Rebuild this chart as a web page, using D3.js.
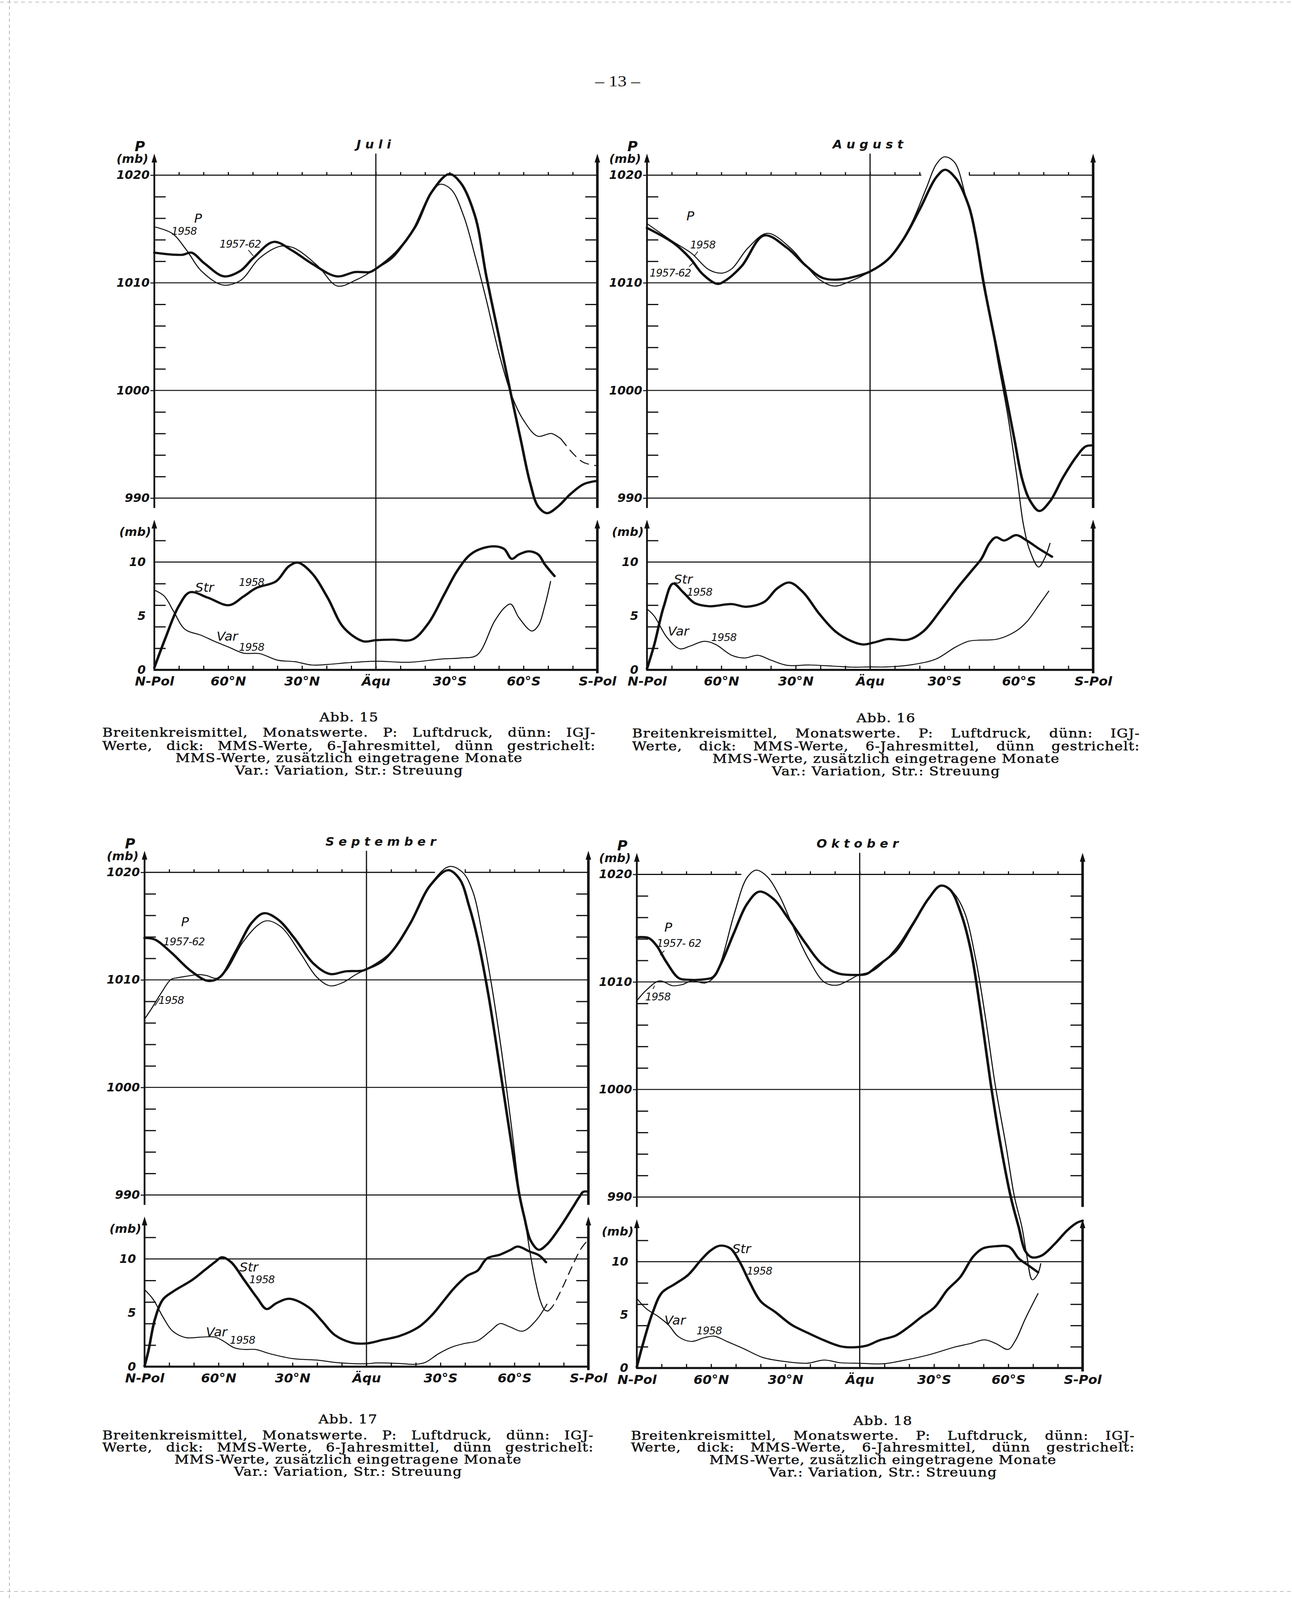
<!DOCTYPE html>
<html><head><meta charset="utf-8">
<script src="https://cdn.jsdelivr.net/npm/d3@7"></script>
<style>html,body{margin:0;padding:0;background:#fff;overflow:hidden}svg{display:block}</style>
</head><body>
<script>
// ================= DATA =================
const latTicks = [90, 60, 30, 0, -30, -60, -90];
const latLabels = ["N-Pol", "60°N", "30°N", "Äqu", "30°S", "60°S", "S-Pol"];
const pLabelValues = [990, 1000, 1010, 1020];
const pMinorTicks = [992, 994, 996, 998, 1002, 1004, 1006, 1008, 1012, 1014, 1016, 1018];
const sLabelValues = [0, 5, 10];
const sMinorTicks = [2, 4, 6, 8, 12];
const monthTitles = ["Juli", "August", "September", "Oktober"];
const figNumbers = ["Abb. 15", "Abb. 16", "Abb. 17", "Abb. 18"];
const captionLines = [
  "Breitenkreismittel, Monatswerte. P: Luftdruck, dünn: IGJ-",
  "Werte, dick: MMS-Werte, 6-Jahresmittel, dünn gestrichelt:",
  "MMS-Werte, zusätzlich eingetragene Monate",
  "Var.: Variation, Str.: Streuung"
];
const pageNumber = "– 13 –";

// [latitude (N positive), value]
// ---- Juli ----
const julP5762 = [[90,1012.8],[78.8,1012.6],[74.9,1012.8],[69.6,1011.8],[61.7,1010.6],[55.1,1011.1],[49.8,1012.3],[41.5,1013.8],[34,1013.0],[26.1,1011.8],[15.9,1010.6],[8.4,1011.0],[2.4,1011.0],[0,1011.3],[-8.1,1012.8],[-16,1015.2],[-22.6,1018.4],[-29.8,1020.1],[-34.4,1019.3],[-40.3,1016.2],[-44.9,1010.6],[-50.2,1004.8],[-54.2,1000.4],[-58.8,995.5],[-62.7,991.4],[-66,989.2],[-69.6,988.6],[-73.9,989.2],[-79.2,990.4],[-84.5,991.3],[-90,991.6]];
const julP1958 = [[90,1015.2],[82.8,1014.6],[76.8,1013.0],[70.9,1011.1],[62.3,1009.8],[55.1,1010.2],[47.2,1012.3],[38.7,1013.4],[33.4,1013.25],[23.5,1011.55],[15.6,1009.7],[7.7,1010.3],[0,1011.3],[-6.8,1012.3],[-14.7,1014.8],[-21.3,1017.9],[-26.1,1019.15],[-30.5,1018.7],[-35.7,1016.2],[-40.3,1012.5],[-44.9,1008.4],[-50.2,1003.3],[-55.4,999.4],[-60.1,997.2],[-65.8,995.75],[-71.3,996.0],[-75.2,995.5]];
const julP1958Dash = [[-75.2,995.5],[-80.5,994.05],[-84.5,993.3],[-90,993.0]];
const julStr = [[90,0.2],[85.4,3.0],[80.1,5.9],[75.5,7.2],[68.3,6.7],[59.7,6.0],[53.8,6.8],[48.5,7.6],[40.6,8.2],[35.4,9.6],[31.7,9.95],[26.1,9.0],[19.6,6.7],[13,3.9],[5.1,2.65],[0,2.75],[-6.8,2.8],[-14.7,2.8],[-21.3,4.3],[-27.8,7.0],[-33.1,9.2],[-38.4,10.7],[-43.6,11.3],[-48.9,11.45],[-52.2,11.2],[-55.2,10.3],[-58.1,10.7],[-62.1,11.0],[-66,10.7],[-68.6,9.8],[-72.6,8.7]];
const julVar = [[90,7.4],[86,6.85],[82.1,5.4],[77.5,3.75],[70.9,3.2],[65.6,2.65],[59.7,2.1],[53.8,1.55],[47.2,1.5],[40,0.9],[32.7,0.75],[26.1,0.45],[19.6,0.5],[11.7,0.65],[0,0.8],[-13.4,0.7],[-26.5,1.0],[-34.4,1.1],[-41,1.35],[-48.2,4.5],[-52.2,5.75],[-54.8,6.1],[-58.1,4.85],[-63.4,3.6],[-66,4.1],[-68.6,5.9],[-71,8.2]];

// ---- August ----
const augP5762 = [[90,1015.1],[79.3,1013.7],[72.7,1012.3],[67.5,1010.8],[61.6,1009.9],[58.4,1010.2],[51.8,1011.55],[42.7,1014.4],[33.5,1013.25],[25.7,1011.55],[19.1,1010.45],[12.6,1010.3],[3.4,1010.75],[0,1011.05],[-7.1,1012.15],[-13.6,1014.1],[-20.2,1016.9],[-26.7,1019.8],[-30.3,1020.5],[-34.6,1019.7],[-39.8,1017.15],[-42.5,1014.5],[-45.7,1010.1],[-50.3,1004.75],[-54.3,1000.15],[-58.2,995.5],[-61.5,991.65],[-64.7,989.7],[-68.3,988.8],[-72.6,989.7],[-77.8,991.9],[-83.1,993.8],[-87,994.8],[-90,994.9]];
const augP1958 = [[90,1015.5],[79.3,1013.8],[72.1,1012.75],[64.9,1011.2],[59.7,1010.9],[55.8,1011.3],[49.2,1013.25],[41.4,1014.6],[32.2,1013.25],[25.7,1011.55],[20.4,1010.3],[14.5,1009.7],[7.4,1010.2],[0,1011.05],[-8.4,1012.5],[-16.2,1015.3],[-22.7,1018.8],[-26.7,1021.0],[-30,1021.7],[-33.9,1021.25],[-38.5,1018.1],[-42.5,1014.5],[-46.4,1009.6],[-51.5,1002.8],[-55.4,997.9],[-59.3,991.9],[-61.9,987.5],[-64.5,985.1],[-68,983.6],[-70.4,984.4],[-72.6,985.8]];
const augP1958Dash = [];
const augStr = [[90,0.1],[87.1,2.3],[83.2,5.9],[79.5,8.0],[75.4,7.2],[70.8,6.2],[64.9,5.9],[55.8,6.1],[49.9,5.85],[42.7,6.3],[37.5,7.55],[32.5,8.1],[27,7.2],[20.5,5.2],[13.9,3.55],[7.4,2.65],[2.8,2.35],[-1.8,2.55],[-7,2.85],[-15.5,2.8],[-21.4,3.55],[-29.2,5.75],[-35.8,7.75],[-41,9.2],[-44.9,10.3],[-48.2,11.75],[-50.8,12.3],[-54.1,12.0],[-59,12.5],[-63.2,12.0],[-68.4,11.2],[-73.4,10.5]];
const augVar = [[90,5.65],[87.1,5.0],[81.9,3.0],[76.7,1.95],[72.7,2.2],[66.9,2.65],[62.3,2.35],[55.8,1.35],[50.5,1.1],[45.3,1.35],[40,0.9],[33.5,0.42],[24.4,0.45],[15.2,0.35],[7.4,0.25],[0,0.27],[-7,0.27],[-17.5,0.5],[-26.6,1.0],[-34.4,2.1],[-39.7,2.65],[-43.6,2.75],[-51.4,2.85],[-58.6,3.55],[-63.2,4.45],[-68.4,6.1],[-72.1,7.3]];

// ---- September ----
const sepP5762 = [[90,1013.9],[85.8,1013.75],[79.2,1012.55],[71.3,1010.85],[64.1,1009.9],[59.5,1010.25],[52.9,1012.7],[46.4,1015.35],[41.5,1016.2],[35.8,1015.6],[29.3,1013.9],[21.4,1011.5],[14.8,1010.55],[8.3,1010.8],[1.7,1010.85],[0,1011.0],[-6.2,1011.7],[-11.4,1012.95],[-18,1015.35],[-25.9,1018.8],[-33.1,1020.2],[-37.7,1019.4],[-41.7,1016.8],[-45,1013.9],[-49.5,1008.55],[-54.8,1000.75],[-58.7,994.9],[-62,990.05],[-64,987.95],[-66.6,985.75],[-69.9,984.9],[-73.2,985.4],[-78.5,987.0],[-83.7,988.85],[-86.3,989.8],[-88,990.3],[-90,990.3]];
const sepP1958 = [[90,1006.35],[87.1,1007.35],[83.2,1008.8],[79.2,1010.05],[76.6,1010.2],[71.3,1010.4],[68,1010.5],[64.8,1010.4],[60.8,1010.15],[56.9,1010.85],[50.3,1013.45],[43.7,1015.15],[40.2,1015.5],[34.5,1014.9],[26.7,1012.45],[20.1,1010.25],[14.8,1009.45],[9.6,1009.75],[4.3,1010.5],[0,1011.0],[-7.5,1012.1],[-12.8,1013.3],[-19.3,1015.85],[-27.2,1019.25],[-33.8,1020.55],[-39,1020.0],[-43,1018.3],[-46.9,1014.4],[-50.9,1009.3],[-55.5,1002.2],[-59,996.0],[-62.2,990.0],[-64.7,987.0],[-66.6,984.3],[-68.6,981.9],[-70.6,980.1],[-72.3,979.3],[-73.6,979.2]];
const sepP1958Dash = [[-73.6,979.2],[-75.2,979.55],[-79.1,981.2],[-83.1,983.2],[-87,985.0],[-89.6,985.75]];
const sepStr = [[90,0.05],[88.4,1.5],[85.8,4.4],[82.5,6.25],[78.6,6.95],[70.7,8.05],[65.4,9.0],[61.5,9.7],[58.6,10.15],[54.9,9.7],[49.6,8.05],[44.4,6.4],[40.5,5.35],[36.5,5.9],[31.3,6.3],[23.4,5.5],[18.1,4.25],[12.9,2.95],[6.3,2.25],[0.4,2.15],[-6.8,2.5],[-13.4,2.85],[-21.3,3.7],[-26.6,4.8],[-31.8,6.25],[-35.8,7.35],[-41,8.45],[-45,8.9],[-48.9,10.05],[-54.2,10.4],[-58.1,10.8],[-61.4,11.15],[-66,10.7],[-69.9,10.35],[-72.8,9.7]];
const sepVar = [[90,7.15],[86.5,6.25],[82.5,4.6],[78.6,3.3],[73.3,2.7],[66.7,2.75],[61.5,2.75],[58.2,2.4],[53.6,1.75],[49.7,1.6],[45.1,1.6],[39.1,1.2],[29.9,0.75],[19.4,0.6],[12.9,0.4],[0.4,0.27],[-4.2,0.35],[-13.4,0.3],[-20,0.22],[-23.9,0.4],[-29.2,1.2],[-34.4,1.8],[-39.7,2.15],[-45,2.4],[-50.2,3.3],[-54.2,4.0],[-58.1,3.7],[-63.4,3.3],[-68.6,4.25],[-73.2,5.8]];

// ---- Oktober ----
const oktP5762 = [[90,1014.15],[85.4,1014.1],[82.1,1013.4],[78.2,1011.9],[73,1010.35],[69,1010.2],[62.5,1010.25],[59.2,1010.45],[56,1011.7],[50.7,1014.6],[45.5,1017.25],[40.5,1018.4],[35,1017.75],[28.5,1015.8],[21.9,1013.6],[15.4,1011.7],[8.8,1010.8],[1,1010.65],[-2.9,1010.75],[-6.9,1011.45],[-14.7,1012.9],[-21.3,1015.3],[-27.8,1017.75],[-32.7,1018.95],[-36.4,1018.6],[-41,1016.3],[-44.9,1012.9],[-48.8,1007.3],[-52.8,1000.7],[-56.7,995.1],[-61,990.0],[-64.2,987.2],[-66.8,985.0],[-69.4,984.4],[-73.4,984.55],[-78.6,985.6],[-83.8,986.9],[-87.7,987.6],[-90,987.8]];
const oktP1958 = [[90,1008.25],[86.1,1009.25],[80.8,1010.1],[75.6,1009.65],[71.7,1009.75],[67.7,1010.1],[62.5,1009.9],[59.2,1010.35],[56,1011.9],[50.7,1016.3],[45.5,1019.7],[41.8,1020.4],[37.6,1019.85],[32.4,1018.0],[27.2,1015.3],[20.7,1012.15],[14.1,1009.95],[9.1,1009.7],[4.9,1010.1],[0.4,1010.65],[-5.5,1011.05],[-14.7,1013.15],[-21.3,1015.45],[-27.8,1017.75],[-33,1019.0],[-37.6,1018.35],[-42.2,1016.55],[-46.8,1012.15],[-50.7,1006.8],[-54.7,1000.45],[-59.2,994.6],[-62.5,990.0],[-65.5,987.2],[-67.5,984.5],[-69.7,982.3],[-71.8,982.8],[-73.1,983.8]];
const oktP1958Dash = [];
const oktStr = [[90,0.1],[87.6,2.2],[83.7,5.15],[79.8,7.1],[74.6,7.9],[69.3,8.75],[64.1,10.15],[60.2,11.05],[56.5,11.5],[52.3,11.25],[48.4,9.95],[44.5,8.1],[39.9,6.25],[34,5.25],[27.4,4.05],[20.9,3.3],[14.3,2.6],[7.8,2.05],[2.6,1.95],[-2.7,2.1],[-7.9,2.6],[-14.5,3.05],[-19.7,3.85],[-24.9,4.8],[-30.2,5.7],[-35.4,7.35],[-40.6,8.55],[-45.9,10.5],[-49.8,11.25],[-55,11.45],[-60.3,11.4],[-64.2,10.3],[-68.1,9.65],[-72,9.0]];
const oktVar = [[90,6.55],[86.3,5.6],[81.1,4.8],[77.2,4.05],[73.2,2.95],[68,2.5],[62.8,2.85],[58.8,3.0],[53.6,2.5],[47.1,1.85],[39.2,1.0],[31.4,0.65],[21.5,0.45],[14.3,0.75],[7.8,0.5],[-0.1,0.45],[-9.2,0.4],[-18.4,0.75],[-28.8,1.3],[-38,1.95],[-44.6,2.3],[-50.5,2.65],[-55,2.3],[-59.9,1.75],[-62.9,2.6],[-66.8,4.6],[-72,7.0]];

// ================= LAYOUT (page pixels of the 3307 x 4677 sheet) =================
const W = 3307, H = 4677;
const layouts = [
  {xL:395,  xR:1529, yTop:512,  yBot:1456, y0:1958, y10:1643, titleDx:0,
   capX0:262, capX1:1525, capY:[2097,2142,2180,2216,2252]},
  {xL:1656, xR:2798, yTop:512,  yBot:1456, y0:1958, y10:1643, titleDx:0,
   capX0:1618, capX1:2918, capY:[2099,2144,2181,2218,2254]},
  {xL:370,  xR:1506, yTop:2550, yBot:3493, y0:3995, y10:3680, titleDx:42,
   capX0:262, capX1:1520, capY:[4149,4196,4231,4267,4302]},
  {xL:1630, xR:2771, yTop:2556, yBot:3499, y0:3999, y10:3688, titleDx:0,
   capX0:1615, capX1:2905, capY:[4153,4197,4231,4268,4304]}
];
// annotation anchors in data coordinates (lat, value); panel P = pressure, S = Str/Var
const notes = [
  [{t:"P",lat:72.2,v:1016.0,p:"P",big:1},{t:"1958",lat:77.9,v:1014.8,p:"P"},{t:"1957-62",lat:55.1,v:1013.6,p:"P"},
   {t:"Str",lat:69.6,v:7.66,p:"S",big:1},{t:"1958",lat:50.5,v:8.1,p:"S"},{t:"Var",lat:60.4,v:3.1,p:"S",big:1},{t:"1958",lat:50.5,v:2.1,p:"S"}],
  [{t:"P",lat:72.5,v:1016.2,p:"P",big:1},{t:"1958",lat:67.5,v:1013.5,p:"P"},{t:"1957-62",lat:80.6,v:1010.9,p:"P"},
   {t:"Str",lat:75.4,v:8.4,p:"S",big:1},{t:"1958",lat:68.8,v:7.2,p:"S"},{t:"Var",lat:77.3,v:3.6,p:"S",big:1},{t:"1958",lat:59,v:3.0,p:"S"}],
  [{t:"P",lat:73.6,v:1015.4,p:"P",big:1},{t:"1957-62",lat:74,v:1013.55,p:"P"},{t:"1958",lat:79.2,v:1008.1,p:"P"},
   {t:"Str",lat:47.7,v:9.25,p:"S",big:1},{t:"1958",lat:42.4,v:8.07,p:"S"},{t:"Var",lat:60.8,v:3.23,p:"S",big:1},{t:"1958",lat:50.3,v:2.45,p:"S"}],
  [{t:"P",lat:77.3,v:1015.1,p:"P",big:1},{t:"1957- 62",lat:73,v:1013.6,p:"P"},{t:"1958",lat:81.5,v:1008.6,p:"P"},
   {t:"Str",lat:47.7,v:11.23,p:"S",big:1},{t:"1958",lat:40.5,v:9.1,p:"S"},{t:"Var",lat:74.6,v:4.5,p:"S",big:1},{t:"1958",lat:60.8,v:3.5,p:"S"}]
];
const leaders = [
  [[[51.8,1013.05],[49.8,1012.5]]],
  [[[69.5,1012.9],[70.8,1012.5]],[[73,1011.5],[71.2,1011.9]]],
  [[[83.8,1008.3],[85.8,1007.6]]],
  [[[78.9,1012.9],[80.6,1012.5]],[[82.8,1009.65],[83.5,1009.35]]]
];
const series = [
  {thick:julP5762, thin:julP1958, dash:julP1958Dash, str:julStr, vr:julVar},
  {thick:augP5762, thin:augP1958, dash:augP1958Dash, str:augStr, vr:augVar},
  {thick:sepP5762, thin:sepP1958, dash:sepP1958Dash, str:sepStr, vr:sepVar},
  {thick:oktP5762, thin:oktP1958, dash:oktP1958Dash, str:oktStr, vr:oktVar}
];

// ================= DRAWING =================
const INK = "#111";
const LAB = "'DejaVu Sans Condensed','Liberation Sans Narrow','DejaVu Sans',sans-serif";
const CAP = "'DejaVu Serif','Liberation Serif',serif";

// the visible viewport may be shorter than the sheet: squeeze the sheet vertically to fit
const viewH = Math.min(H, window.innerHeight || H);
const ky = viewH / H;

const svg = d3.select("body").append("svg").attr("width", W).attr("height", viewH);
svg.append("rect").attr("width", W).attr("height", viewH).attr("fill", "#fff");
const root = svg.append("g").attr("transform", `scale(1,${ky})`);

// scan borders (faint dotted)
const border = root.append("g").attr("stroke", "#999").attr("stroke-width", 2).attr("stroke-dasharray", "10 8").attr("opacity", 0.7);
border.append("line").attr("x1", 0).attr("x2", W).attr("y1", 6).attr("y2", 6);
border.append("line").attr("x1", 24).attr("x2", 24).attr("y1", 0).attr("y2", H);
border.append("line").attr("x1", 0).attr("x2", W).attr("y1", 4652).attr("y2", 4652);

root.append("text").attr("x", 1581).attr("y", 252).attr("text-anchor", "middle")
  .attr("font-family", "'Liberation Serif','DejaVu Serif',serif").attr("font-size", 46).attr("fill", INK).text(pageNumber);

function styleAxis(g, sw) {
  g.select(".domain").remove();
  g.selectAll("line").attr("stroke", INK).attr("stroke-width", sw);
  g.selectAll("text").attr("fill", INK).attr("font-family", LAB).attr("font-style", "italic")
    .attr("font-weight", "bold").attr("font-size", 34);
}
function arrowAxis(g, xPos, yFrom, yTo, sw) {
  g.append("line").attr("x1", xPos).attr("x2", xPos).attr("y1", yFrom).attr("y2", yTo + 14)
    .attr("stroke", INK).attr("stroke-width", sw);
  g.append("path").attr("d", `M${xPos},${yTo} L${xPos - 7},${yTo + 26} L${xPos + 7},${yTo + 26} Z`).attr("fill", INK);
}

layouts.forEach((c, i) => {
  const s = series[i];
  const g = root.append("g");
  const x = d3.scaleLinear().domain([90, -90]).range([c.xL, c.xR]);
  const yP = d3.scaleLinear().domain([990, 1020]).range([c.yBot, c.yTop]);
  const yS = d3.scaleLinear().domain([0, 10]).range([c.y0, c.y10]);
  const upTop = c.yTop - 63, upBot = c.yBot + 29, loTop = c.y10 - 124;

  // ---- upper panel grid ----
  [1010, 1000, 990].forEach(v => g.append("line").attr("x1", c.xL).attr("x2", c.xR)
    .attr("y1", yP(v)).attr("y2", yP(v)).attr("stroke", INK).attr("stroke-width", 3));
  // 1020 line, interrupted where curves rise above it
  const above = s.thick.concat(s.thin).filter(d => d[1] > 1020.2).map(d => d[0]);
  let gap = null;
  if (above.length) gap = [d3.max(above) + 6, d3.min(above) - 6];
  const segs = gap ? [[90, gap[0]], [gap[1], -90]] : [[90, -90]];
  segs.forEach(sg => g.append("line").attr("x1", x(sg[0])).attr("x2", x(sg[1]))
    .attr("y1", yP(1020)).attr("y2", yP(1020)).attr("stroke", INK).attr("stroke-width", 3.2));
  const topTicks = d3.range(80, -81, -10).filter(l => !gap || l > gap[0] || l < gap[1]);
  g.append("g").attr("transform", `translate(0,${yP(1020)})`)
    .call(d3.axisTop(x).tickValues(topTicks).tickSize(9).tickFormat(""))
    .call(a => styleAxis(a, 3));

  // upper side ticks
  g.append("g").attr("transform", `translate(${c.xL},0)`)
    .call(d3.axisRight(yP).tickValues(pMinorTicks).tickSize(29).tickFormat("")).call(a => styleAxis(a, 3.5));
  g.append("g").attr("transform", `translate(${c.xR},0)`)
    .call(d3.axisLeft(yP).tickValues(pMinorTicks).tickSize(31).tickFormat("")).call(a => styleAxis(a, 3.5));
  g.append("g").attr("transform", `translate(${c.xL},0)`)
    .call(d3.axisLeft(yP).tickValues(pLabelValues).tickSize(10).tickPadding(2).tickFormat(d3.format("d")))
    .call(a => styleAxis(a, 3));

  arrowAxis(g, c.xL, upBot, upTop, 4.5);
  arrowAxis(g, c.xR, upBot, upTop, 6.5);

  g.append("text").attr("x", c.xL - 37).attr("y", c.yTop - 70).attr("text-anchor", "middle")
    .attr("font-family", LAB).attr("font-style", "italic").attr("font-weight", "bold").attr("font-size", 40).attr("fill", INK).text("P");
  g.append("text").attr("x", c.xL - 56).attr("y", c.yTop - 36).attr("text-anchor", "middle")
    .attr("font-family", LAB).attr("font-style", "italic").attr("font-weight", "bold").attr("font-size", 34).attr("fill", INK).text("(mb)");

  g.append("text").attr("x", x(0) + c.titleDx).attr("y", c.yTop - 78).attr("text-anchor", "middle")
    .attr("font-family", LAB).attr("font-style", "italic").attr("font-weight", "bold").attr("font-size", 35)
    .attr("letter-spacing", 11).attr("fill", INK).text(monthTitles[i]);

  // equator
  g.append("line").attr("x1", x(0)).attr("x2", x(0)).attr("y1", upTop).attr("y2", c.y0)
    .attr("stroke", INK).attr("stroke-width", 3);

  // ---- lower panel ----
  g.append("line").attr("x1", c.xL).attr("x2", c.xR).attr("y1", yS(10)).attr("y2", yS(10))
    .attr("stroke", INK).attr("stroke-width", 3);
  g.append("g").attr("transform", `translate(${c.xL},0)`)
    .call(d3.axisRight(yS).tickValues(sMinorTicks).tickSize(29).tickFormat("")).call(a => styleAxis(a, 3.5));
  g.append("g").attr("transform", `translate(${c.xR},0)`)
    .call(d3.axisLeft(yS).tickValues(sMinorTicks).tickSize(31).tickFormat("")).call(a => styleAxis(a, 3.5));
  g.append("g").attr("transform", `translate(${c.xL},0)`)
    .call(d3.axisLeft(yS).tickValues(sLabelValues).tickSize(0).tickPadding(22).tickFormat(d3.format("d")))
    .call(a => styleAxis(a, 0));
  g.append("g").attr("transform", `translate(0,${c.y0})`)
    .call(d3.axisTop(x).tickValues(d3.range(80, -81, -10)).tickSize(12).tickFormat("")).call(a => styleAxis(a, 3));
  g.append("g").attr("transform", `translate(0,${c.y0})`)
    .call(d3.axisBottom(x).tickValues(latTicks).tickSize(0).tickPadding(20).tickFormat((d, k) => latLabels[k]))
    .call(a => { styleAxis(a, 0); a.selectAll("text").attr("font-size", 37); });
  g.append("line").attr("x1", c.xL - 2).attr("x2", c.xR + 3).attr("y1", c.y0).attr("y2", c.y0)
    .attr("stroke", INK).attr("stroke-width", 6);
  arrowAxis(g, c.xL, c.y0, loTop, 4.5);
  arrowAxis(g, c.xR, c.y0 + 10, loTop, 6.5);
  g.append("text").attr("x", c.xL - 49).attr("y", c.y10 - 76).attr("text-anchor", "middle")
    .attr("font-family", LAB).attr("font-style", "italic").attr("font-weight", "bold").attr("font-size", 34).attr("fill", INK).text("(mb)");

  // ---- curves ----
  const lineP = d3.line().x(d => x(d[0])).y(d => yP(d[1])).curve(d3.curveCatmullRom.alpha(0.5));
  const lineS = d3.line().x(d => x(d[0])).y(d => yS(d[1])).curve(d3.curveCatmullRom.alpha(0.5));
  const curve = (d, gen, w, dash) => g.append("path").attr("d", gen(d)).attr("fill", "none")
    .attr("stroke", INK).attr("stroke-width", w).attr("stroke-linejoin", "round").attr("stroke-linecap", "round")
    .attr("stroke-dasharray", dash || null);
  curve(s.thin, lineP, 2.8);
  if (s.dash.length) curve(s.dash, lineP, 2.8, "24 16");
  curve(s.thick, lineP, 6.5);
  curve(s.str, lineS, 6.5);
  curve(s.vr, lineS, 2.8);

  // ---- annotations ----
  notes[i].forEach(n => {
    const yy = n.p === "P" ? yP(n.v) : yS(n.v);
    g.append("text").attr("x", x(n.lat)).attr("y", yy).attr("text-anchor", "middle").attr("dominant-baseline", "central")
      .attr("font-family", LAB).attr("font-style", "italic").attr("font-size", n.big ? 37 : 30)
      .attr("letter-spacing", n.big ? 0 : -1).attr("fill", INK).text(n.t);
  });
  leaders[i].forEach(l => g.append("line").attr("x1", x(l[0][0])).attr("y1", yP(l[0][1]))
    .attr("x2", x(l[1][0])).attr("y2", yP(l[1][1])).attr("stroke", INK).attr("stroke-width", 2));

  // ---- caption ----
  const cx = (c.capX0 + c.capX1) / 2;
  const capText = (t, xx, yy, anchor) => g.append("text").attr("x", xx).attr("y", yy + 12)
    .attr("text-anchor", anchor).attr("font-family", CAP).attr("font-size", 36).attr("letter-spacing", 1.5)
    .attr("fill", INK).attr("stroke", INK).attr("stroke-width", 0.8).text(t);
  capText(figNumbers[i], cx, c.capY[0], "middle");
  [0, 1].forEach(k => {
    const words = captionLines[k].split(" ");
    const ts = words.map(w => capText(w, 0, c.capY[k + 1], "start"));
    const ws = ts.map(t => t.node().getComputedTextLength());
    const gapW = (c.capX1 - c.capX0 - d3.sum(ws)) / (words.length - 1);
    let xx = c.capX0;
    ts.forEach((t, j) => { t.attr("x", xx); xx += ws[j] + gapW; });
  });
  capText(captionLines[2], cx, c.capY[3], "middle");
  capText(captionLines[3], cx, c.capY[4], "middle");
});
</script>
</body></html>
